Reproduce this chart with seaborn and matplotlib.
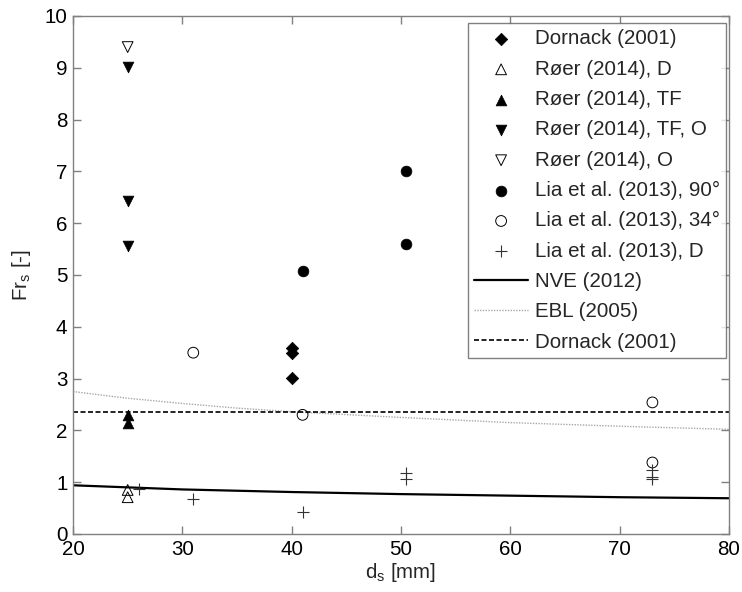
import numpy as np
import pandas as pd
import matplotlib
matplotlib.use("Agg")
import matplotlib.pyplot as plt
import seaborn as sns

# Measured data
dornack_x = [40, 40, 40]
dornack_y = [3.60, 3.50, 3.02]

roer_d_x = [25, 25]
roer_d_y = [0.85, 0.71]

roer_tf_x = [25, 25]
roer_tf_y = [2.29, 2.15]

roer_tfo_x = [25, 25, 25]
roer_tfo_y = [9.02, 6.43, 5.55]

roer_o_x = [25]
roer_o_y = [9.40]

lia90_x = [41, 50.5, 50.5]
lia90_y = [5.08, 7.00, 5.60]

lia34_x = [31, 41, 73, 73]
lia34_y = [3.50, 2.30, 2.54, 1.38]

liad_x = [26, 31, 41, 50.5, 50.5, 73, 73, 73]
liad_y = [0.87, 0.67, 0.42, 1.17, 1.07, 1.24, 1.10, 1.07]

# Design curves
nve_x = [20, 30, 40, 50, 60, 70, 80]
nve_y = [0.94, 0.86, 0.81, 0.77, 0.74, 0.71, 0.69]

ebl_x = [20, 25, 30, 35, 40, 50, 60, 70, 80]
ebl_y = [2.75, 2.62, 2.52, 2.43, 2.36, 2.25, 2.15, 2.08, 2.02]

dorn_line_x = [20, 80]
dorn_line_y = [2.35, 2.35]

x_ticks = [20, 30, 40, 50, 60, 70, 80]
y_ticks = list(range(0, 11))

FS = 14.8

sns.set_theme(style="white")
plt.rcParams["font.family"] = ["Liberation Sans", "DejaVu Sans"]
plt.rcParams["mathtext.fontset"] = "custom"
plt.rcParams["mathtext.rm"] = "Liberation Sans"

fig = plt.figure(figsize=(7.42, 5.92), dpi=100)
ax = fig.add_axes([0.0984, 0.098, 0.884, 0.875])

ms = 60
sns.scatterplot(x=dornack_x, y=dornack_y, marker="D", s=40, color="black",
                edgecolor="black", linewidth=0.5, ax=ax, label="Dornack (2001)", zorder=3)
sns.scatterplot(x=roer_d_x, y=roer_d_y, marker="^", s=ms, color="none",
                edgecolor="black", linewidth=0.7, ax=ax, label="Røer (2014), D", zorder=3)
sns.scatterplot(x=roer_tf_x, y=roer_tf_y, marker="^", s=ms, color="black",
                edgecolor="black", linewidth=0.5, ax=ax, label="Røer (2014), TF", zorder=3)
sns.scatterplot(x=roer_tfo_x, y=roer_tfo_y, marker="v", s=ms, color="black",
                edgecolor="black", linewidth=0.5, ax=ax, label="Røer (2014), TF, O", zorder=3)
sns.scatterplot(x=roer_o_x, y=roer_o_y, marker="v", s=ms, color="none",
                edgecolor="black", linewidth=0.7, ax=ax, label="Røer (2014), O", zorder=3)
sns.scatterplot(x=lia90_x, y=lia90_y, marker="o", s=ms, color="black",
                edgecolor="black", linewidth=0.5, ax=ax, label="Lia et al. (2013), 90°", zorder=3)
sns.scatterplot(x=lia34_x, y=lia34_y, marker="o", s=ms, color="none",
                edgecolor="black", linewidth=0.7, ax=ax, label="Lia et al. (2013), 34°", zorder=3)
sns.scatterplot(x=liad_x, y=liad_y, marker="+", s=70, color="#333333",
                linewidth=0.8, ax=ax, label="Lia et al. (2013), D", zorder=3)

sns.lineplot(x=nve_x, y=nve_y, color="black", linewidth=1.6, ax=ax,
             label="NVE (2012)", zorder=2)
sns.lineplot(x=ebl_x, y=ebl_y, color="#a8a8a8", linewidth=1.0, linestyle=(0, (1, 1)),
             ax=ax, label="EBL (2005)", zorder=2)
sns.lineplot(x=dorn_line_x, y=dorn_line_y, color="black", linewidth=1.2,
             linestyle=(0, (3, 1.5)), ax=ax, label="Dornack (2001)", zorder=2)

ax.set_xlim(20, 80)
ax.set_ylim(0, 10)
ax.set_xticks(x_ticks)
ax.set_yticks(y_ticks)
ax.tick_params(direction="in", length=6, width=1, color="#808080",
               labelsize=FS, top=True, right=True, bottom=True, left=True,
               pad=4, labelcolor="black")
for sp in ax.spines.values():
    sp.set_color("#808080")
    sp.set_linewidth(1.0)

ax.set_xlabel("d$_\\mathregular{s}$ [mm]", fontsize=FS, labelpad=2)
ax.set_ylabel("Fr$_\\mathregular{s}$ [-]", fontsize=FS, labelpad=8)

leg = ax.legend(loc="upper right", bbox_to_anchor=(0.996, 0.986), fontsize=FS,
                frameon=True, fancybox=False, edgecolor="#606060",
                handlelength=2.6, handletextpad=0.35, borderpad=0.3,
                labelspacing=0.55, borderaxespad=0.0)
leg.get_frame().set_linewidth(1.0)

fig.savefig("out.png", dpi=100)
